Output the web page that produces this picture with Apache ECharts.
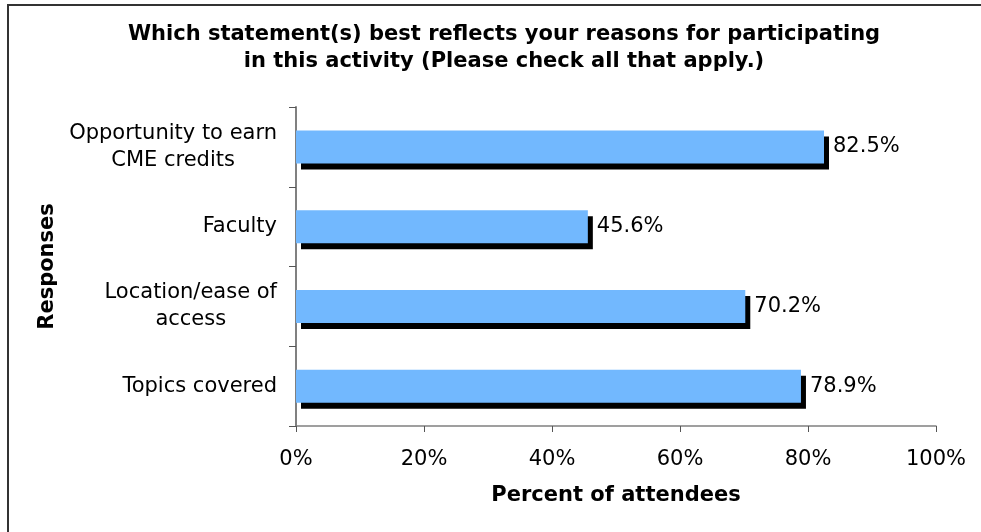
<!DOCTYPE html>
<html>
<head>
<meta charset="utf-8">
<script src="https://cdn.jsdelivr.net/npm/echarts@6/dist/echarts.min.js"></script>
<style>
html,body{margin:0;padding:0;background:#fff;}
#chart{width:981px;height:532px;}
</style>
</head>
<body>
<div id="chart"></div>
<script>
const categories = ["Opportunity to earn\nCME credits", "Faculty", "Location/ease of\naccess", "Topics covered"];
const values = [82.5, 45.6, 70.2, 78.9];
const xTicks = [0, 20, 40, 60, 80, 100];
const titleText = "Which statement(s) best reflects your reasons for participating\nin this activity (Please check all that apply.)";
const xName = "Percent of attendees";
const yName = "Responses";

const FONT = "DejaVu Sans, Verdana, sans-serif";
const chart = echarts.init(document.getElementById('chart'), null, {renderer: 'canvas'});
chart.setOption({
  backgroundColor: '#fff',
  animation: false,
  title: {
    text: titleText,
    left: 499,
    top: 16,
    textAlign: 'center',
    textStyle: {fontFamily: FONT, fontWeight: 'bold', fontSize: 21, color: '#000', lineHeight: 27}
  },
  graphic: [{
    type: 'rect', silent: true,
    shape: {x: 8, y: 5, width: 1200, height: 800},
    style: {fill: 'none', stroke: '#333', lineWidth: 2}
  }],
  grid: {left: 296, right: 45, top: 107, bottom: 106, containLabel: false},
  xAxis: {
    type: 'value', min: xTicks[0], max: xTicks[xTicks.length - 1], interval: 20,
    name: xName, nameLocation: 'middle', nameGap: 59,
    nameTextStyle: {fontFamily: FONT, fontWeight: 'bold', fontSize: 21, color: '#000'},
    axisLine: {show: true, lineStyle: {color: '#808080', width: 1.5}},
    axisTick: {show: true, length: 6, lineStyle: {color: '#555'}},
    axisLabel: {formatter: '{value}%', fontFamily: FONT, fontSize: 21, color: '#000', margin: 23},
    splitLine: {show: false}
  },
  yAxis: {
    type: 'category', data: categories, inverse: true,
    name: yName, nameLocation: 'middle', nameGap: 238, nameRotate: 90,
    nameTextStyle: {fontFamily: FONT, fontWeight: 'bold', fontSize: 21, color: '#000'},
    axisLine: {show: true, lineStyle: {color: '#808080', width: 2}},
    axisTick: {show: true, length: 7, lineStyle: {color: '#555'}},
    axisLabel: {
      margin: 19, align: 'right', color: '#000', fontFamily: FONT, fontSize: 21, lineHeight: 27,
      formatter: function (v) { return v.split('\n').map(function (s) { return '{c|' + s + '}'; }).join('\n'); },
      rich: {c: {align: 'center', fontFamily: FONT, fontSize: 21, color: '#000', lineHeight: 27}}
    }
  },
  series: [{
    type: 'bar', data: values, barWidth: 33,
    itemStyle: {color: '#72b8fe', shadowColor: '#000', shadowBlur: 0, shadowOffsetX: 5, shadowOffsetY: 6},
    label: {show: true, position: 'right', distance: 9, formatter: '{c}%', fontFamily: FONT, fontSize: 21, color: '#000'}
  }]
});
</script>
</body>
</html>
